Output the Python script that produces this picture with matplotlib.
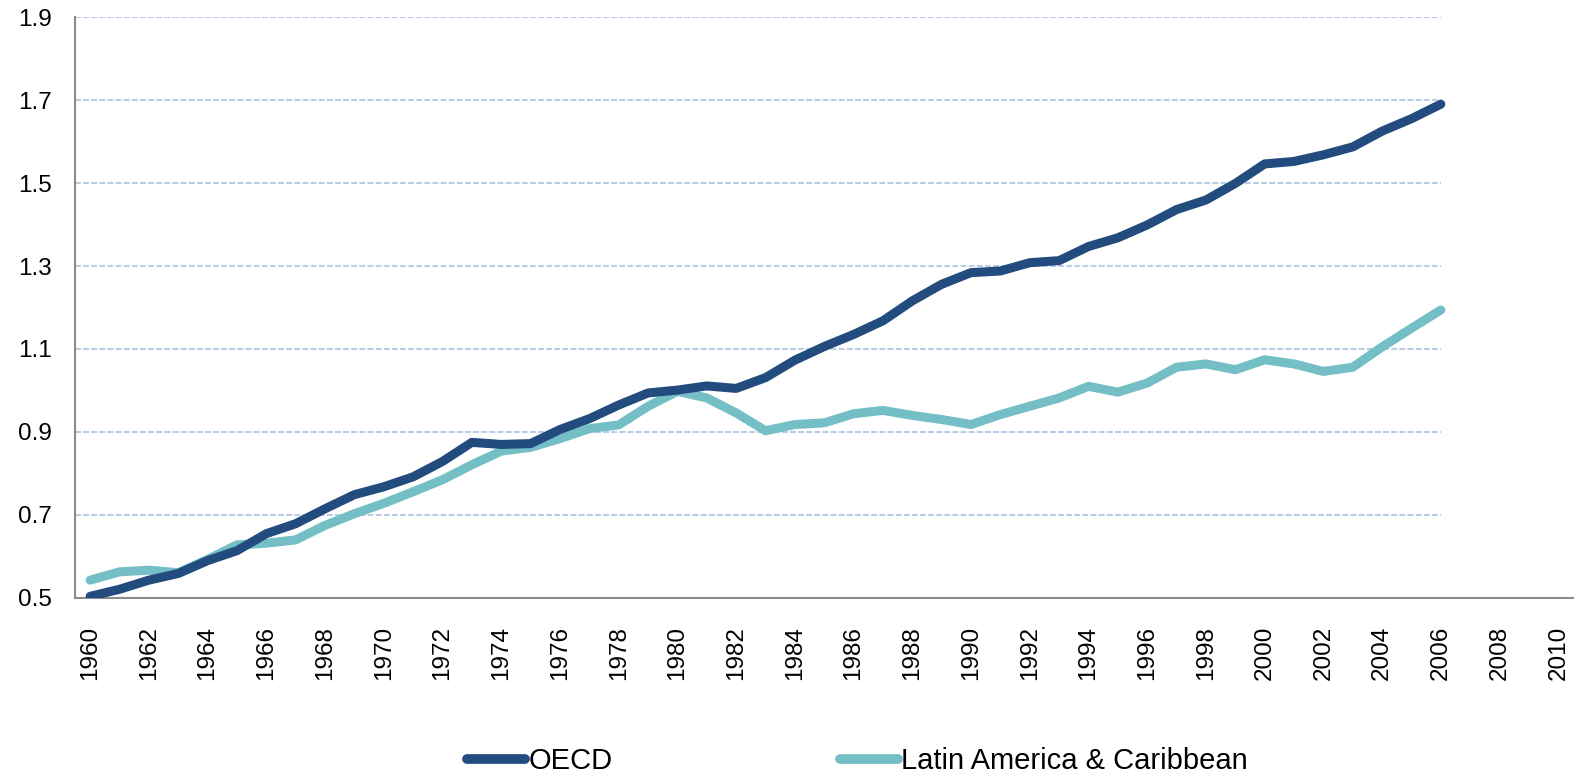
import numpy as np
import matplotlib
matplotlib.use("Agg")
import matplotlib.pyplot as plt

# category axis runs 1960-2010, data stops at 2006
years = list(range(1960, 2011))
oecd = [0.504, 0.521, 0.543, 0.559, 0.590, 0.614, 0.655, 0.679, 0.715, 0.749,
        0.768, 0.792, 0.829, 0.875, 0.870, 0.872, 0.906, 0.932, 0.965, 0.994,
        1.001, 1.011, 1.005, 1.031, 1.073, 1.106, 1.135, 1.168, 1.216, 1.256,
        1.284, 1.288, 1.308, 1.313, 1.347, 1.368, 1.399, 1.436, 1.459, 1.499,
        1.546, 1.552, 1.568, 1.587, 1.625, 1.655, 1.690]
lac = [0.543, 0.563, 0.567, 0.561, 0.593, 0.628, 0.632, 0.640, 0.675, 0.703,
       0.728, 0.756, 0.785, 0.821, 0.854, 0.863, 0.884, 0.908, 0.917, 0.962,
       0.998, 0.982, 0.946, 0.903, 0.918, 0.922, 0.944, 0.952, 0.940, 0.930,
       0.918, 0.942, 0.962, 0.982, 1.010, 0.996, 1.018, 1.056, 1.064, 1.050,
       1.074, 1.064, 1.046, 1.056, 1.105, 1.150, 1.194]
yticks = [0.5, 0.7, 0.9, 1.1, 1.3, 1.5, 1.7, 1.9]

plt.rcParams['font.family'] = ['Liberation Sans', 'DejaVu Sans']

fig = plt.figure(figsize=(15.79, 7.77), dpi=100)
ax = fig.add_axes([0.0478, 0.2304, 0.9484, 0.7477])

x = np.arange(len(years))
# dashed gridlines only span the data range
ax.hlines(yticks[1:], -0.5, len(oecd) - 1, colors='#B9CDE5', linewidth=1.5,
          linestyles=(0, (2.8, 1.1)), zorder=1)

ax.plot(x[:len(oecd)], oecd, color='#224B7E', linewidth=6.5, label='OECD',
        solid_capstyle='round', solid_joinstyle='round', zorder=3)
ax.plot(x[:len(lac)], lac, color='#74BFC5', linewidth=6.5, label='Latin America & Caribbean',
        solid_capstyle='round', solid_joinstyle='round', zorder=2)

ax.set_xlim(-0.5, len(years) - 0.5)
ax.set_ylim(0.5, 1.9)
ax.set_yticks(yticks)
ax.set_yticklabels([f"{v:.1f}" for v in yticks], fontsize=17.5)
ax.set_xticks(x[::2])
ax.set_xticklabels([str(y) for y in years[::2]], rotation=90, fontsize=17.5)
ax.tick_params(axis='both', length=0)
ax.tick_params(axis='y', pad=17)
ax.tick_params(axis='x', pad=20)

for side in ['top', 'right']:
    ax.spines[side].set_visible(False)
for side in ['left', 'bottom']:
    ax.spines[side].set_color('#8C8C8C')
    ax.spines[side].set_linewidth(1.5)

leg = fig.legend(loc='center', bbox_to_anchor=(0.543, 0.02), ncol=2, frameon=False,
                 handlelength=2.0, handletextpad=0.1, columnspacing=7.8,
                 prop={'size': 21})
for line in leg.get_lines():
    line.set_linewidth(7)
    line.set_solid_capstyle('round')

fig.savefig("out.png", dpi=100)
